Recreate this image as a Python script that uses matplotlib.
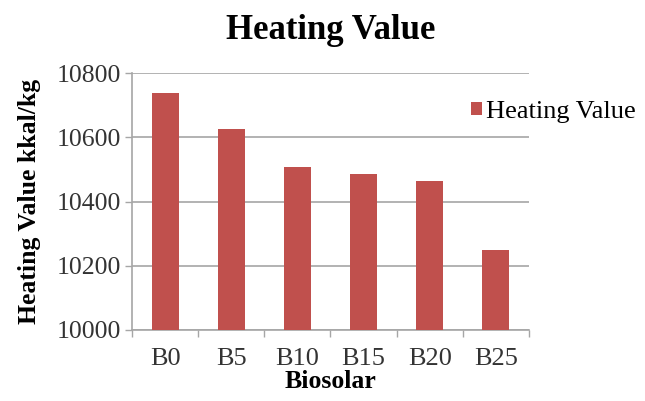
import matplotlib
matplotlib.use("Agg")
import matplotlib.pyplot as plt
import numpy as np

categories = ["B0", "B5", "B10", "B15", "B20", "B25"]
values = [10737, 10626, 10506, 10486, 10464, 10249]
yticks = [10000, 10200, 10400, 10600, 10800]

plt.rcParams['font.family'] = ['Liberation Serif', 'DejaVu Serif']

fig = plt.figure(figsize=(6.45, 4.01), dpi=100)
ax = fig.add_axes([132/645, 1 - 330/401, (529-132)/645, (330-73)/401])

x = np.arange(len(categories))
ax.bar(x, values, width=0.41, color="#C0504D", label="Heating Value", zorder=3)
ax.set_ylim(10000, 10800)
ax.set_xlim(-0.5, len(categories) - 0.5)
ax.set_yticks(yticks)
ax.set_yticklabels([str(v) for v in yticks], fontsize=18.5, color="#333333")
ax.yaxis.grid(True, color="#A6A6A6", linewidth=1.2, zorder=0)
ax.set_xticks(x)
ax.set_xticklabels(categories, fontsize=19, color="#333333")
ax.tick_params(axis='x', length=0, pad=13)
ax.tick_params(axis='y', length=5, color="#A6A6A6", width=1, pad=3)
ax.set_xticks(np.arange(len(categories) + 1) - 0.5, minor=True)
ax.tick_params(axis='x', which='minor', length=5, color="#A6A6A6", width=1)
for s in ['top', 'right']:
    ax.spines[s].set_visible(False)
for s in ['left', 'bottom']:
    ax.spines[s].set_color("#A6A6A6")
    ax.spines[s].set_linewidth(1.2)

ax.set_xlabel("Biosolar", fontsize=18.5, fontweight='bold', labelpad=0)
ax.set_ylabel("Heating Value kkal/kg", fontsize=18.5, fontweight='bold', labelpad=11)
fig.suptitle("Heating Value", fontsize=25, fontweight='bold', x=(132+529)/2/645, y=0.965)

fig.legend(loc='center left', bbox_to_anchor=(471/645, 1 - 112/401), frameon=False,
           fontsize=19, handlelength=0.42, handleheight=0.42, handletextpad=0.15,
           borderpad=0, borderaxespad=0)

fig.savefig("out.png", dpi=100)
